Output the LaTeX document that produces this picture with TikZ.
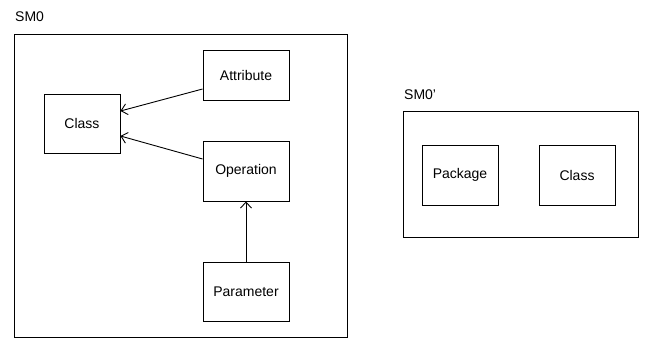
\documentclass[tikz,border=0pt]{standalone}
\usepackage{fontspec}
\setmainfont{Liberation Sans}
\usetikzlibrary{arrows.meta}
\begin{document}
\begin{tikzpicture}[x=1pt,y=-1pt,
  box/.style={draw,line width=0.9pt,inner sep=0pt},
  cls/.style={box,minimum width=86pt,minimum height=50pt,font=\fontsize{14}{16}\selectfont},
  lbl/.style={anchor=west,inner sep=0pt,font=\fontsize{14}{16}\selectfont},
  conn/.style={line width=0.9pt,-{Straight Barb[length=6pt,width=11pt,line width=0.9pt]}}]
\useasboundingbox (0,0) rectangle (645,340);
\node[lbl] (sm0) at (15,17) {SM0};
\node[box,minimum width=333pt,minimum height=303pt] (frame0) at (180.5,185.5) {};
\node[cls,minimum width=76pt,minimum height=59pt] (class) at (82,123.5) {Class};
\node[cls] (attr) at (246,75) {Attribute};
\node[cls,minimum height=60pt] (oper) at (246,171) {Operation};
\node[cls,minimum height=59pt] (param) at (246,291.5) {Parameter};
\draw[conn] (attr.west |- 0,89) -- (class.east |- 0,111);
\draw[conn] (oper.west |- 0,159) -- (class.east |- 0,136);
\draw[conn] (param.north) -- (oper.south);
\node[lbl] (sm0p) at (404,95) {SM0\symbol{39}};
\node[box,minimum width=235pt,minimum height=126pt] (frame1) at (520.5,174) {};
\node[cls,minimum width=76pt,minimum height=60pt] (pkg) at (460,175) {Package};
\node[cls,minimum width=76pt,minimum height=60pt] (class2) at (577,175) {Class};
\end{tikzpicture}
\end{document}
